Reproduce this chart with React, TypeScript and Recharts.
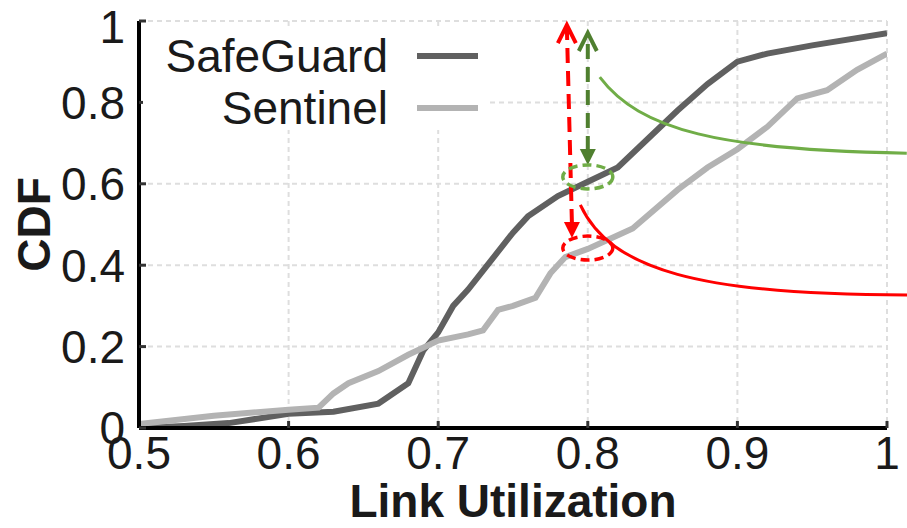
import React from "react";
import {
  LineChart,
  Line,
  XAxis,
  YAxis,
  CartesianGrid,
  Legend,
  ReferenceLine,
  ReferenceDot,
} from "recharts";

// CDF of link utilization
const safeGuardX = [0.5, 0.53, 0.56, 0.6, 0.63, 0.66, 0.68, 0.69, 0.7, 0.71, 0.72, 0.735, 0.75, 0.76, 0.78, 0.8, 0.82, 0.84, 0.86, 0.88, 0.9, 0.92, 0.95, 1.0];
const safeGuardY = [0, 0.005, 0.012, 0.035, 0.04, 0.06, 0.11, 0.19, 0.235, 0.3, 0.34, 0.41, 0.48, 0.52, 0.57, 0.605, 0.64, 0.71, 0.78, 0.845, 0.9, 0.92, 0.94, 0.97];

const sentinelX = [0.5, 0.55, 0.6, 0.62, 0.63, 0.64, 0.66, 0.68, 0.7, 0.72, 0.73, 0.74, 0.75, 0.765, 0.775, 0.785, 0.8, 0.83, 0.86, 0.88, 0.9, 0.92, 0.94, 0.96, 0.98, 1.0];
const sentinelY = [0.01, 0.03, 0.045, 0.05, 0.085, 0.11, 0.14, 0.18, 0.215, 0.23, 0.24, 0.29, 0.3, 0.32, 0.38, 0.42, 0.44, 0.49, 0.585, 0.64, 0.685, 0.74, 0.81, 0.83, 0.88, 0.92];

const xTicks = [0.5, 0.6, 0.7, 0.8, 0.9, 1];
const yTicks = [0, 0.2, 0.4, 0.6, 0.8, 1];

const safeGuard = safeGuardX.map((x, i) => ({ x, y: safeGuardY[i] }));
const sentinel = sentinelX.map((x, i) => ({ x, y: sentinelY[i] }));

const FONT = "'Liberation Sans', Arial, sans-serif";
const RED = "#ff0000";
const GREEN_DARK = "#4f7f2f";
const GREEN = "#70ad47";

function arrowShape(color: string) {
  return (p: any) => {
    const { x1, y1, x2, y2 } = p;
    // x1,y1 = lower tip (filled head), x2,y2 = upper tip (open head)
    return (
      <g>
        <line x1={x1} y1={y1 - 14} x2={x2} y2={y2 + 2} stroke={color} strokeWidth={4} strokeDasharray="15 8" />
        <polyline points={`${x2 - 9},${y2 + 18} ${x2},${y2} ${x2 + 9},${y2 + 18}`} fill="none" stroke={color} strokeWidth={4} />
        <polygon points={`${x1},${y1} ${x1 - 8},${y1 - 16} ${x1 + 8},${y1 - 16}`} fill={color} />
      </g>
    );
  };
}

function ellipseShape(color: string) {
  return (p: any) => (
    <ellipse cx={p.cx} cy={p.cy} rx={25} ry={12} fill="none" stroke={color} strokeWidth={3.5} strokeDasharray="9 5" />
  );
}

function curveShape(color: string, c1: number[], c2: number[], end: number[]) {
  return (p: any) => {
    const { cx, cy } = p;
    const d = `M ${cx} ${cy} C ${cx + c1[0]} ${cy + c1[1]}, ${cx + c2[0]} ${cy + c2[1]}, ${cx + end[0]} ${cy + end[1]}`;
    return <path d={d} fill="none" stroke={color} strokeWidth={3} />;
  };
}

function LegendBox(props: any) {
  const items = props.payload || [];
  return (
    <div style={{ background: "#fff", width: 345, height: 100, position: "relative", fontFamily: FONT }}>
      {items.map((it: any, i: number) => (
        <div key={it.value} style={{ position: "absolute", top: i * 52, left: 0, height: 52, width: 345 }}>
          <span
            style={{
              position: "absolute",
              right: 100,
              top: 26,
              transform: "translateY(-50%)",
              fontSize: 46,
              lineHeight: "46px",
              color: "#1a1a1a",
              whiteSpace: "nowrap",
            }}
          >
            {it.value}
          </span>
          <div style={{ position: "absolute", left: 274, top: 23, width: 61, height: 6, background: it.color }} />
        </div>
      ))}
    </div>
  );
}

export default function App() {
  const tickStyle = { fontSize: 46, fill: "#1a1a1a", fontFamily: FONT };
  return (
    <div style={{ position: "absolute", left: 0, top: 0, width: 907, height: 528, background: "#fff" }}>
      <LineChart width={907} height={528} margin={{ top: 21, right: 20, bottom: 0, left: 0 }}>
        <CartesianGrid stroke="#dedede" strokeWidth={2} strokeDasharray="5 4" />
        <XAxis
          dataKey="x"
          type="number"
          domain={[0.5, 1]}
          ticks={xTicks}
          allowDataOverflow
          height={100}
          tick={tickStyle}
          tickFormatter={(v: number) => String(v)}
          tickSize={-7}
          tickMargin={15}
          tickLine={{ stroke: "#333", strokeWidth: 3 }}
          axisLine={{ stroke: "#000", strokeWidth: 4 }}
          label={{ value: "Link Utilization", position: "center", dy: 23, fontSize: 46, fontWeight: "bold", fill: "#1a1a1a", fontFamily: FONT }}
        />
        <XAxis
          xAxisId="top"
          orientation="top"
          type="number"
          domain={[0.5, 1]}
          ticks={xTicks}
          height={0}
          tick={false}
          tickSize={-7}
          tickLine={{ stroke: "#333", strokeWidth: 3 }}
          axisLine={{ stroke: "#1a1a1a", strokeWidth: 4 }}
        />
        <YAxis
          type="number"
          domain={[0, 1]}
          ticks={yTicks}
          allowDataOverflow
          width={139}
          tick={tickStyle}
          tickFormatter={(v: number) => String(v)}
          tickSize={-7}
          tickMargin={21}
          tickLine={{ stroke: "#333", strokeWidth: 3 }}
          axisLine={{ stroke: "#000", strokeWidth: 4 }}
          label={{ value: "CDF", angle: -90, position: "center", dx: -36, fontSize: 46, fontWeight: "bold", fill: "#1a1a1a", fontFamily: FONT }}
        />
        <YAxis
          yAxisId="right"
          orientation="right"
          type="number"
          domain={[0, 1]}
          ticks={yTicks}
          width={0}
          tick={false}
          tickSize={-7}
          tickLine={{ stroke: "#333", strokeWidth: 3 }}
          axisLine={{ stroke: "#1a1a1a", strokeWidth: 4 }}
        />
        <Legend
          layout="horizontal"
          verticalAlign="middle"
          align="center"
          content={LegendBox}
          wrapperStyle={{ position: "absolute", left: 143, top: 30, width: 345, height: 100 }}
        />
        <Line data={safeGuard} dataKey="y" name="SafeGuard" stroke="#606060" strokeWidth={6} dot={false} isAnimationActive={false} />
        <Line data={sentinel} dataKey="y" name="Sentinel" stroke="#b3b3b3" strokeWidth={6} dot={false} isAnimationActive={false} />

        <ReferenceLine segment={[{ x: 0.7894, y: 0.467 }, { x: 0.786, y: 0.99 }]} stroke={RED} shape={arrowShape(RED)} />
        <ReferenceLine segment={[{ x: 0.8, y: 0.646 }, { x: 0.8, y: 0.9705 }]} stroke={GREEN_DARK} shape={arrowShape(GREEN_DARK)} />
        <ReferenceDot x={0.8} y={0.617} r={1} shape={ellipseShape(GREEN)} ifOverflow="visible" />
        <ReferenceDot x={0.8} y={0.442} r={1} shape={ellipseShape(RED)} ifOverflow="visible" />
        <ReferenceDot x={0.808} y={0.862} r={1} shape={curveShape(GREEN, [40, 53], [120, 73], [307, 76])} ifOverflow="visible" />
        <ReferenceDot x={0.795} y={0.548} r={1} shape={curveShape(RED, [30, 65], [120, 90], [327, 90])} ifOverflow="visible" />
      </LineChart>
    </div>
  );
}
